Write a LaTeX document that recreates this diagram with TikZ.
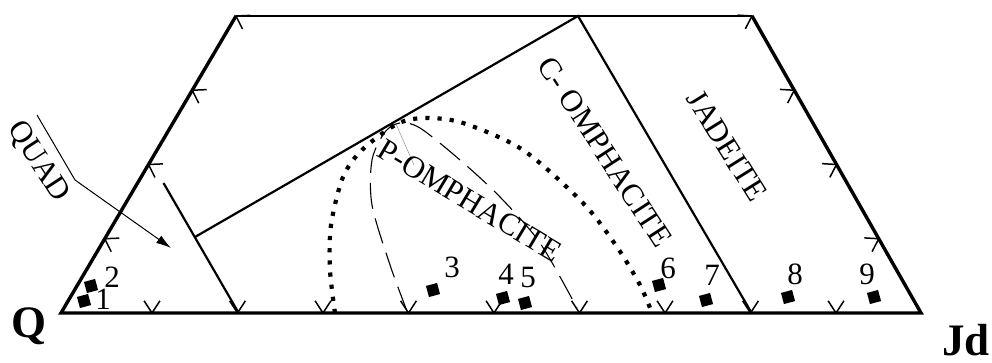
\documentclass[tikz,border=0pt]{standalone}
\usepackage{fontspec}
\setmainfont{Liberation Serif}
\usetikzlibrary{arrows.meta}
\newcommand\mytick[3]{\draw[tickst] (#1,#2) ++({#3+33}:14.5pt) -- (#1,#2) -- ++({#3-33}:14.5pt);}
\begin{document}
\begin{tikzpicture}[x=1pt,y=-1pt,
 edge/.style={line width=3.4pt},
 topedge/.style={line width=2.2pt},
 inner/.style={line width=2.2pt},
 tickst/.style={line width=1.5pt},
 dotc/.style={line width=4.2pt, dash pattern=on 4.2pt off 8pt},
 dashc/.style={line width=1.1pt, dash pattern=on 26pt off 10pt},
 sq/.style={fill, inner sep=0pt, minimum size=11.5pt, rotate=15},
 num/.style={inner sep=0pt, font=\fontsize{31}{33}\selectfont},
 field/.style={inner sep=0pt, font=\fontsize{31}{33}\selectfont},
 vlabel/.style={inner sep=0pt, anchor=base, font=\fontsize{45}{48}\selectfont\bfseries}]
\useasboundingbox (0,0) rectangle (992,363);
% vertices
\coordinate (BL) at (61,313);
\coordinate (BR) at (921,313);
\coordinate (TL) at (236,16);
\coordinate (TR) at (752,16);
% inner coordinates
\coordinate (Qb) at (237.5,311);
\coordinate (Qt) at (163.5,183);
\coordinate (Qm) at (195,237);
\coordinate (Ct) at (578,16);
\coordinate (Cb) at (750.5,311);
% outline
\draw[edge] (TL) -- (BL) -- (BR) -- (TR);
\draw[topedge] (TL) -- (TR);
% inner lines
\draw[inner] (Qt) -- (Qb);
\draw[inner] (Qm) -- (Ct) -- (Cb);
% ticks
\foreach \f in {0.25,0.5,0.75,1}{\mytick{61+175*\f}{313-297*\f}{-30.5}}
\foreach \f in {0,0.25,0.5,0.75}{\mytick{752+169*\f}{16+297*\f}{209.6}}
\foreach \k in {0,...,8}{\mytick{152+85.5*\k}{313}{90}}
% curves
\draw[dotc] plot[smooth] coordinates {(335,313) (330,270) (331,225) (343,177) (362,150) (397,124) (425,118) (463,123) (523,150) (583,203) (617,247) (640,285) (652,313)};
\draw[dashc] plot[smooth] coordinates {(407,311) (390,265) (372,205) (372,160) (385,132) (400,123) (420,128) (460,160) (500,197) (540,243) (577,308)};
\draw[gray, line width=0.4pt] (396,124) -- (414,165);
% field labels
\node[field, rotate=-31] (pom) at (470,201) {P-OMPHACITE};
\node[field, rotate=-57] (com) at (605,152) {C- OMPHACITE};
\node[field, rotate=-58] (jad) at (727,146) {JADEITE};
\node[field, rotate=-57] (quad) at (38,162) {QUAD};
\coordinate (L1) at (37,115);
\coordinate (L2) at (75,180);
\coordinate (L3) at (171,248);
\draw[line width=1pt, -{Latex[length=15pt,width=9pt]}] (L1) -- (L2) -- (L3);
% vertex labels
\node[vlabel] (Q) at (29,337) {Q};
\node[vlabel] (Jd) at (966,355) {Jd};
% points
\node[sq] (p1) at (84,301) {}; \node[num] (n1) at (103,299) {1};
\node[sq] (p2) at (91,286) {}; \node[num] (n2) at (112,277) {2};
\node[sq] (p3) at (433,290) {}; \node[num] (n3) at (452,267) {3};
\node[sq] (p4) at (503,298) {}; \node[num] (n4) at (506,274) {4};
\node[sq] (p5) at (525,303) {}; \node[num] (n5) at (528,278) {5};
\node[sq] (p6) at (659,285) {}; \node[num] (n6) at (668,268) {6};
\node[sq] (p7) at (706,300) {}; \node[num] (n7) at (712,275) {7};
\node[sq] (p8) at (788,297) {}; \node[num] (n8) at (795,274) {8};
\node[sq] (p9) at (874,297) {}; \node[num] (n9) at (867,274) {9};
\end{tikzpicture}
\end{document}
